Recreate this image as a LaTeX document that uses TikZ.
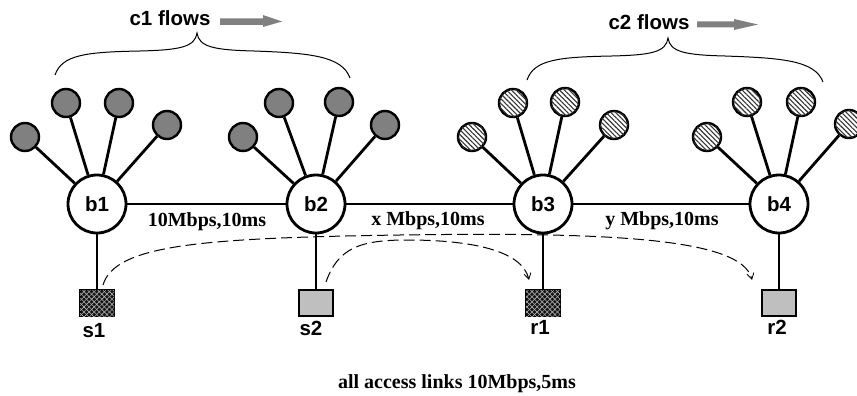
\documentclass[tikz,border=0pt]{standalone}
\usepackage{fontspec}
\setmainfont{Liberation Serif}
\newfontfamily\hvfont{Liberation Sans}
\usetikzlibrary{patterns,patterns.meta,arrows.meta}
\definecolor{leafgray}{HTML}{808080}
\definecolor{boxgray}{HTML}{BFBFBF}
\begin{document}
\begin{tikzpicture}[x=1pt,y=-1pt,
  hub/.style={circle,draw,line width=2.8pt,fill=white,minimum size=58pt,inner sep=0pt,
    font=\hvfont\bfseries\fontsize{20.5}{24}\selectfont},
  leafA/.style={circle,draw,line width=2.4pt,fill=leafgray,minimum size=28pt,inner sep=0pt},
  leafB/.style={circle,draw,line width=2.4pt,fill=white,minimum size=28pt,inner sep=0pt,
    postaction={pattern={Lines[angle=-45,distance=3.4pt,line width=1.1pt]},pattern color=black!80}},
  sqA/.style={draw,line width=2.2pt,minimum width=34pt,minimum height=26pt,inner sep=0pt,fill=black!92,
    postaction={pattern={Lines[angle=45,distance=3.6pt,line width=0.6pt]},pattern color=white!70!black},
    postaction={pattern={Lines[angle=-45,distance=3.6pt,line width=0.6pt]},pattern color=white!70!black}},
  sqB/.style={draw,line width=2.2pt,minimum width=34pt,minimum height=26pt,inner sep=0pt,fill=boxgray},
  spoke/.style={line width=2.8pt},
  link/.style={line width=2.8pt},
  flow/.style={line width=1pt,dash pattern=on 11pt off 5pt,-{Straight Barb[length=6pt,width=7pt,line width=0.8pt]}},
  brc/.style={line width=1pt},
  lbl/.style={font=\hvfont\bfseries\fontsize{20.5}{24}\selectfont,inner sep=0pt},
  tlbl/.style={font=\bfseries\fontsize{20}{24}\selectfont,inner sep=0pt},
  garrow/.style={fill=leafgray}
]
\useasboundingbox (0,0) rectangle (857,396);
\clip (0,0) rectangle (857,396);

% hubs
\node[hub] (b1) at (97,204) {b1};
\node[hub] (b2) at (316,204) {b2};
\node[hub] (b3) at (543,204) {b3};
\node[hub] (b4) at (779,204) {b4};

% leaves c1
\node[leafA] (l11) at (25,137) {};
\node[leafA] (l12) at (66,103) {};
\node[leafA] (l13) at (119,103) {};
\node[leafA] (l14) at (167,125) {};
\node[leafA] (l21) at (243,137) {};
\node[leafA] (l22) at (279,103) {};
\node[leafA] (l23) at (339,102) {};
\node[leafA] (l24) at (385,125) {};
% leaves c2
\node[leafB] (l31) at (472,137) {};
\node[leafB] (l32) at (513,103) {};
\node[leafB] (l33) at (565,102) {};
\node[leafB] (l34) at (614,125) {};
\node[leafB] (l41) at (707,137) {};
\node[leafB] (l42) at (747,102) {};
\node[leafB] (l43) at (801,102) {};
\node[leafB] (l44) at (849,124) {};

\foreach \h/\l in {b1/l11,b1/l12,b1/l13,b1/l14,b2/l21,b2/l22,b2/l23,b2/l24,
                   b3/l31,b3/l32,b3/l33,b3/l34,b4/l41,b4/l42,b4/l43,b4/l44}
  \draw[spoke] (\h) -- (\l);

% end hosts
\node[sqA] (s1) at (97,303) {};
\node[sqB] (s2) at (316,303) {};
\node[sqA] (r1) at (543,303) {};
\node[sqB] (r2) at (779,303) {};

\draw[link] (b1) -- (b2);
\draw[link] (b2) -- (b3);
\draw[link] (b3) -- (b4);
\draw[link] (b1) -- (s1);
\draw[link] (b2) -- (s2);
\draw[link] (b3) -- (r1);
\draw[link] (b4) -- (r2);

% labels
\node[lbl,anchor=base] (s1l) at (94,337) {s1};
\node[lbl,anchor=base] (s2l) at (311,335) {s2};
\node[lbl,anchor=base] (r1l) at (540,334) {r1};
\node[lbl,anchor=base] (r2l) at (777,334) {r2};

\node[tlbl,anchor=base] (e1) at (207,226) {10Mbps,10ms};
\node[tlbl,anchor=base] (e2) at (428,225) {x Mbps,10ms};
\node[tlbl,anchor=base] (e3) at (662,225) {y Mbps,10ms};
\node[tlbl,anchor=base] (note) at (457,388) {all access links 10Mbps,5ms};

% flows (dashed)
\coordinate (f1s) at (103,285);
\coordinate (f1e) at (752,280);
\coordinate (f2s) at (326,282);
\coordinate (f2e) at (529,280);
\draw[flow] (f1s) .. controls (115,245) and (200,238) .. (400,235)
            .. controls (610,232) and (742,238) .. (f1e);
\draw[flow] (f2s) .. controls (338,248) and (360,240) .. (407,240)
            .. controls (470,240) and (522,250) .. (f2e);

% braces
\draw[brc] (55,75) .. controls (62,55) and (85,52) .. (140,51)
  .. controls (180,50) and (195,47) .. (197,33)
  .. controls (199,47) and (214,50) .. (254,51)
  .. controls (310,53) and (342,56) .. (350,78);
\draw[brc] (527,80) .. controls (534,60) and (557,57) .. (612,56)
  .. controls (652,55) and (666,52) .. (668,38)
  .. controls (670,52) and (685,55) .. (725,56)
  .. controls (780,58) and (815,60) .. (823,82);

\node[lbl,anchor=base] (c1) at (170,26) {c1 flows};
\node[lbl,anchor=base] (c2) at (649,30) {c2 flows};

\fill[garrow] (220,18.3) -- (263,18.3) -- (263,15) -- (282,21.5) -- (263,27) -- (263,25) -- (220,25) -- cycle;
\fill[garrow] (697,21.5) -- (734,21.5) -- (734,19) -- (758,24.5) -- (734,30) -- (734,27.5) -- (697,27.5) -- cycle;
\end{tikzpicture}
\end{document}
